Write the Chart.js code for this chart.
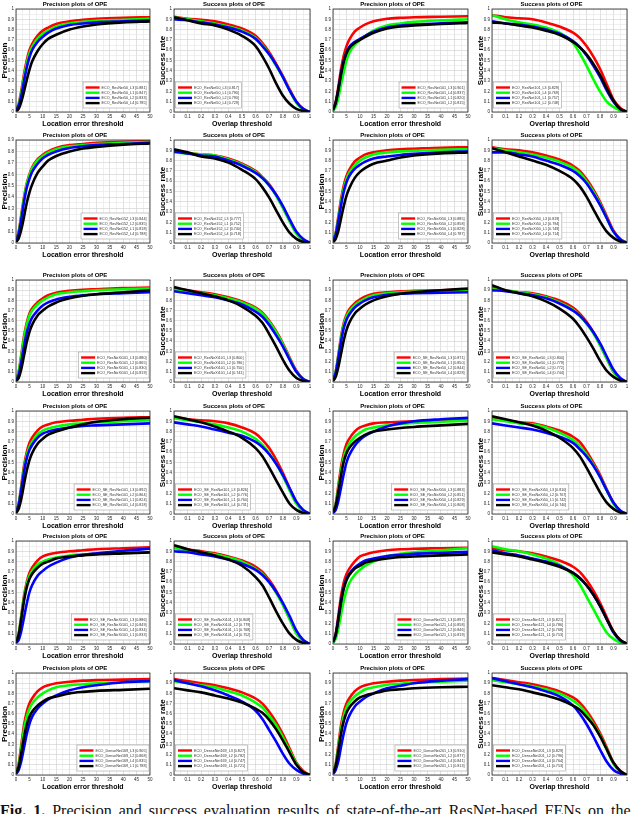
<!DOCTYPE html>
<html>
<head>
<meta charset="utf-8">
<script src="https://cdn.jsdelivr.net/npm/chart.js@4.4.0/dist/chart.umd.min.js"></script>
<style>
  html, body { margin: 0; padding: 0; background: #fff; }
  #figure { position: relative; width: 640px; height: 814px; overflow: hidden; background: #fff; }
  #figure canvas { position: absolute; }
  #caption { position: absolute; left: 0; top: 803px; font: 16px "Liberation Serif", serif; line-height: 16px; word-spacing: 3px; white-space: nowrap; color: #111; }
</style>
</head>
<body>
<div id="figure">
  <div id="caption"><b>Fig. 1.</b> Precision and success evaluation results of state-of-the-art ResNet-based FENs on the</div>
</div>
<script>
// x positions of the sampled curve points
const precisionX = [0, 1, 2, 3, 4, 5, 6, 8, 10, 12, 15, 20, 25, 30, 40, 50];
const successX = [0, 0.1, 0.2, 0.3, 0.4, 0.5, 0.6, 0.65, 0.7, 0.75, 0.8, 0.85, 0.9, 0.95, 1];
const lineColors = ['#ff0000', '#00ff00', '#0000ff', '#000000'];

// row 1
const resnet50PrecNames = ['ECO_ResNet50_L3 [0.881]', 'ECO_ResNet50_L1 [0.847]', 'ECO_ResNet50_L2 [0.833]', 'ECO_ResNet50_L4 [0.785]'];
const resnet50Prec = [
  [0.02, 0.08, 0.21, 0.37, 0.5, 0.6, 0.66, 0.74, 0.79, 0.82, 0.855, 0.88, 0.895, 0.905, 0.915, 0.92],
  [0.02, 0.07, 0.19, 0.34, 0.47, 0.57, 0.63, 0.71, 0.76, 0.79, 0.83, 0.86, 0.875, 0.885, 0.895, 0.905],
  [0.02, 0.06, 0.16, 0.3, 0.43, 0.53, 0.6, 0.68, 0.73, 0.77, 0.81, 0.845, 0.86, 0.87, 0.88, 0.89],
  [0.01, 0.03, 0.1, 0.2, 0.31, 0.41, 0.49, 0.59, 0.66, 0.71, 0.75, 0.8, 0.83, 0.85, 0.87, 0.88]
];
const resnet50SuccNames = ['ECO_ResNet50_L3 [0.817]', 'ECO_ResNet50_L1 [0.790]', 'ECO_ResNet50_L2 [0.790]', 'ECO_ResNet50_L4 [0.729]'];
const resnet50Succ = [
  [0.925, 0.905, 0.895, 0.88, 0.85, 0.81, 0.74, 0.67, 0.58, 0.47, 0.35, 0.22, 0.1, 0.03, 0],
  [0.92, 0.9, 0.88, 0.86, 0.83, 0.79, 0.72, 0.65, 0.56, 0.45, 0.34, 0.21, 0.09, 0.025, 0],
  [0.9, 0.89, 0.87, 0.85, 0.82, 0.78, 0.71, 0.64, 0.56, 0.46, 0.34, 0.21, 0.1, 0.03, 0],
  [0.92, 0.89, 0.86, 0.84, 0.8, 0.74, 0.64, 0.54, 0.42, 0.28, 0.16, 0.08, 0.03, 0.01, 0]
];
const resnet101PrecNames = ['ECO_ResNet101_L3 [0.901]', 'ECO_ResNet101_L4 [0.837]', 'ECO_ResNet101_L1 [0.820]', 'ECO_ResNet101_L2 [0.815]'];
const resnet101Prec = [
  [0.02, 0.1, 0.25, 0.42, 0.55, 0.64, 0.7, 0.78, 0.82, 0.85, 0.88, 0.905, 0.915, 0.92, 0.925, 0.93],
  [0.01, 0.05, 0.14, 0.27, 0.39, 0.5, 0.57, 0.65, 0.7, 0.74, 0.79, 0.84, 0.86, 0.875, 0.89, 0.9],
  [0.02, 0.09, 0.22, 0.38, 0.5, 0.58, 0.63, 0.68, 0.71, 0.74, 0.78, 0.82, 0.84, 0.85, 0.86, 0.87],
  [0.02, 0.09, 0.22, 0.37, 0.49, 0.57, 0.62, 0.67, 0.7, 0.73, 0.77, 0.81, 0.83, 0.84, 0.855, 0.865]
];
const resnet101SuccNames = ['ECO_ResNet101_L3 [0.829]', 'ECO_ResNet101_L4 [0.769]', 'ECO_ResNet101_L1 [0.757]', 'ECO_ResNet101_L2 [0.748]'];
const resnet101Succ = [
  [0.94, 0.92, 0.91, 0.9, 0.87, 0.83, 0.77, 0.72, 0.64, 0.54, 0.42, 0.27, 0.12, 0.04, 0],
  [0.94, 0.9, 0.87, 0.85, 0.82, 0.77, 0.67, 0.57, 0.45, 0.32, 0.2, 0.1, 0.05, 0.015, 0],
  [0.88, 0.86, 0.85, 0.83, 0.8, 0.76, 0.69, 0.63, 0.55, 0.45, 0.34, 0.21, 0.1, 0.03, 0],
  [0.87, 0.86, 0.84, 0.82, 0.79, 0.75, 0.68, 0.63, 0.56, 0.47, 0.36, 0.23, 0.11, 0.03, 0]
];

// row 2
const resnet152PrecNames = ['ECO_ResNet152_L3 [0.844]', 'ECO_ResNet152_L2 [0.835]', 'ECO_ResNet152_L1 [0.818]', 'ECO_ResNet152_L4 [0.788]'];
const resnet152Prec = [
  [0.02, 0.1, 0.25, 0.4, 0.52, 0.6, 0.66, 0.73, 0.77, 0.8, 0.83, 0.855, 0.865, 0.875, 0.885, 0.89],
  [0.02, 0.09, 0.24, 0.39, 0.51, 0.59, 0.65, 0.72, 0.76, 0.79, 0.82, 0.845, 0.855, 0.865, 0.875, 0.885],
  [0.02, 0.08, 0.21, 0.36, 0.48, 0.56, 0.62, 0.69, 0.74, 0.77, 0.8, 0.83, 0.845, 0.855, 0.865, 0.875],
  [0.01, 0.04, 0.12, 0.23, 0.35, 0.44, 0.51, 0.61, 0.67, 0.72, 0.76, 0.8, 0.825, 0.84, 0.86, 0.87]
];
const resnet152SuccNames = ['ECO_ResNet152_L3 [0.777]', 'ECO_ResNet152_L1 [0.752]', 'ECO_ResNet152_L2 [0.740]', 'ECO_ResNet152_L4 [0.718]'];
const resnet152Succ = [
  [0.89, 0.87, 0.86, 0.85, 0.82, 0.77, 0.7, 0.64, 0.57, 0.47, 0.35, 0.22, 0.1, 0.03, 0],
  [0.88, 0.87, 0.86, 0.85, 0.81, 0.76, 0.69, 0.63, 0.56, 0.46, 0.34, 0.21, 0.09, 0.03, 0],
  [0.89, 0.87, 0.85, 0.84, 0.8, 0.75, 0.68, 0.63, 0.56, 0.47, 0.36, 0.23, 0.11, 0.04, 0],
  [0.91, 0.88, 0.84, 0.82, 0.78, 0.71, 0.62, 0.54, 0.44, 0.32, 0.2, 0.1, 0.04, 0.01, 0]
];
const resnext50PrecNames = ['ECO_ResNeXt50_L3 [0.885]', 'ECO_ResNeXt50_L2 [0.858]', 'ECO_ResNeXt50_L1 [0.828]', 'ECO_ResNeXt50_L4 [0.787]'];
const resnext50Prec = [
  [0.02, 0.1, 0.26, 0.43, 0.56, 0.65, 0.71, 0.79, 0.83, 0.86, 0.88, 0.9, 0.91, 0.915, 0.925, 0.93],
  [0.02, 0.09, 0.24, 0.4, 0.53, 0.62, 0.68, 0.75, 0.8, 0.83, 0.86, 0.88, 0.89, 0.895, 0.905, 0.91],
  [0.02, 0.08, 0.22, 0.37, 0.5, 0.59, 0.65, 0.72, 0.76, 0.79, 0.82, 0.84, 0.855, 0.865, 0.88, 0.89],
  [0.01, 0.04, 0.12, 0.24, 0.36, 0.46, 0.53, 0.63, 0.69, 0.73, 0.77, 0.8, 0.83, 0.85, 0.87, 0.88]
];
const resnext50SuccNames = ['ECO_ResNeXt50_L3 [0.819]', 'ECO_ResNeXt50_L2 [0.794]', 'ECO_ResNeXt50_L1 [0.749]', 'ECO_ResNeXt50_L4 [0.714]'];
const resnext50Succ = [
  [0.93, 0.91, 0.9, 0.88, 0.85, 0.81, 0.75, 0.7, 0.62, 0.52, 0.4, 0.26, 0.12, 0.04, 0],
  [0.92, 0.9, 0.88, 0.86, 0.83, 0.79, 0.73, 0.68, 0.6, 0.5, 0.38, 0.24, 0.11, 0.035, 0],
  [0.88, 0.88, 0.86, 0.84, 0.8, 0.76, 0.7, 0.65, 0.58, 0.48, 0.37, 0.24, 0.11, 0.035, 0],
  [0.92, 0.88, 0.84, 0.8, 0.76, 0.7, 0.62, 0.55, 0.45, 0.33, 0.21, 0.11, 0.05, 0.015, 0]
];

// row 3
const resnext101PrecNames = ['ECO_ResNeXt101_L3 [0.880]', 'ECO_ResNeXt101_L2 [0.865]', 'ECO_ResNeXt101_L1 [0.830]', 'ECO_ResNeXt101_L4 [0.819]'];
const resnext101Prec = [
  [0.02, 0.1, 0.27, 0.45, 0.58, 0.67, 0.72, 0.78, 0.82, 0.85, 0.875, 0.895, 0.905, 0.91, 0.92, 0.925],
  [0.02, 0.1, 0.26, 0.43, 0.56, 0.65, 0.7, 0.76, 0.8, 0.83, 0.86, 0.88, 0.89, 0.9, 0.91, 0.915],
  [0.02, 0.07, 0.2, 0.35, 0.48, 0.57, 0.63, 0.7, 0.75, 0.78, 0.81, 0.835, 0.85, 0.86, 0.87, 0.88],
  [0.01, 0.04, 0.13, 0.26, 0.39, 0.49, 0.56, 0.65, 0.7, 0.74, 0.78, 0.82, 0.845, 0.86, 0.88, 0.9]
];
const resnext101SuccNames = ['ECO_ResNeXt101_L3 [0.800]', 'ECO_ResNeXt101_L2 [0.786]', 'ECO_ResNeXt101_L1 [0.750]', 'ECO_ResNeXt101_L4 [0.741]'];
const resnext101Succ = [
  [0.92, 0.9, 0.88, 0.86, 0.83, 0.79, 0.73, 0.68, 0.6, 0.5, 0.38, 0.24, 0.11, 0.03, 0],
  [0.91, 0.89, 0.87, 0.85, 0.82, 0.78, 0.72, 0.67, 0.59, 0.49, 0.37, 0.23, 0.1, 0.03, 0],
  [0.89, 0.87, 0.85, 0.83, 0.8, 0.76, 0.69, 0.64, 0.56, 0.46, 0.35, 0.22, 0.1, 0.03, 0],
  [0.93, 0.9, 0.87, 0.84, 0.8, 0.74, 0.65, 0.58, 0.47, 0.35, 0.22, 0.11, 0.04, 0.01, 0]
];
const seResnet50PrecNames = ['ECO_SE_ResNet50_L3 [0.871]', 'ECO_SE_ResNet50_L1 [0.850]', 'ECO_SE_ResNet50_L2 [0.844]', 'ECO_SE_ResNet50_L4 [0.828]'];
const seResnet50Prec = [
  [0.02, 0.1, 0.27, 0.45, 0.58, 0.66, 0.71, 0.77, 0.81, 0.84, 0.865, 0.88, 0.89, 0.895, 0.9, 0.91],
  [0.02, 0.1, 0.26, 0.43, 0.56, 0.64, 0.69, 0.75, 0.79, 0.82, 0.85, 0.87, 0.88, 0.885, 0.895, 0.9],
  [0.02, 0.09, 0.24, 0.4, 0.53, 0.61, 0.66, 0.73, 0.77, 0.8, 0.83, 0.855, 0.865, 0.87, 0.875, 0.88],
  [0.01, 0.05, 0.15, 0.28, 0.41, 0.51, 0.58, 0.67, 0.72, 0.76, 0.8, 0.84, 0.865, 0.88, 0.9, 0.915]
];
const seResnet50SuccNames = ['ECO_SE_ResNet50_L3 [0.800]', 'ECO_SE_ResNet50_L1 [0.779]', 'ECO_SE_ResNet50_L2 [0.772]', 'ECO_SE_ResNet50_L4 [0.744]'];
const seResnet50Succ = [
  [0.92, 0.9, 0.88, 0.87, 0.84, 0.8, 0.73, 0.67, 0.59, 0.49, 0.37, 0.23, 0.1, 0.03, 0],
  [0.91, 0.9, 0.88, 0.86, 0.83, 0.78, 0.71, 0.65, 0.57, 0.48, 0.36, 0.23, 0.1, 0.03, 0],
  [0.9, 0.89, 0.87, 0.85, 0.82, 0.77, 0.7, 0.65, 0.58, 0.49, 0.38, 0.25, 0.12, 0.04, 0],
  [0.95, 0.9, 0.87, 0.84, 0.79, 0.72, 0.62, 0.54, 0.44, 0.33, 0.21, 0.11, 0.05, 0.015, 0]
];

// row 4
const seResnet101PrecNames = ['ECO_SE_ResNet101_L3 [0.892]', 'ECO_SE_ResNet101_L2 [0.864]', 'ECO_SE_ResNet101_L1 [0.824]', 'ECO_SE_ResNet101_L4 [0.818]'];
const seResnet101Prec = [
  [0.02, 0.1, 0.28, 0.47, 0.6, 0.69, 0.74, 0.81, 0.85, 0.87, 0.89, 0.905, 0.915, 0.925, 0.935, 0.94],
  [0.02, 0.1, 0.26, 0.44, 0.57, 0.65, 0.7, 0.77, 0.81, 0.83, 0.85, 0.87, 0.88, 0.89, 0.9, 0.91],
  [0.02, 0.09, 0.24, 0.41, 0.54, 0.62, 0.67, 0.74, 0.78, 0.8, 0.82, 0.84, 0.855, 0.86, 0.87, 0.88],
  [0.01, 0.05, 0.15, 0.29, 0.42, 0.52, 0.59, 0.68, 0.73, 0.77, 0.8, 0.84, 0.87, 0.895, 0.92, 0.935]
];
const seResnet101SuccNames = ['ECO_SE_ResNet101_L3 [0.826]', 'ECO_SE_ResNet101_L2 [0.776]', 'ECO_SE_ResNet101_L1 [0.760]', 'ECO_SE_ResNet101_L4 [0.731]'];
const seResnet101Succ = [
  [0.94, 0.92, 0.91, 0.9, 0.88, 0.84, 0.78, 0.72, 0.64, 0.53, 0.4, 0.25, 0.11, 0.03, 0],
  [0.93, 0.91, 0.89, 0.87, 0.84, 0.8, 0.73, 0.67, 0.59, 0.49, 0.37, 0.23, 0.1, 0.03, 0],
  [0.89, 0.87, 0.85, 0.82, 0.79, 0.76, 0.7, 0.65, 0.58, 0.49, 0.38, 0.25, 0.12, 0.04, 0],
  [0.95, 0.92, 0.89, 0.85, 0.8, 0.74, 0.64, 0.56, 0.45, 0.33, 0.21, 0.1, 0.04, 0.01, 0]
];
const seResnext50PrecNames = ['ECO_SE_ResNeXt50_L3 [0.883]', 'ECO_SE_ResNeXt50_L2 [0.851]', 'ECO_SE_ResNeXt50_L4 [0.829]', 'ECO_SE_ResNeXt50_L1 [0.808]'];
const seResnext50Prec = [
  [0.02, 0.1, 0.28, 0.46, 0.59, 0.68, 0.73, 0.8, 0.84, 0.86, 0.88, 0.89, 0.895, 0.9, 0.91, 0.92],
  [0.02, 0.09, 0.25, 0.42, 0.55, 0.63, 0.68, 0.75, 0.79, 0.82, 0.84, 0.86, 0.875, 0.885, 0.895, 0.905],
  [0.01, 0.04, 0.13, 0.26, 0.39, 0.5, 0.57, 0.66, 0.72, 0.76, 0.8, 0.85, 0.88, 0.9, 0.92, 0.935],
  [0.02, 0.08, 0.22, 0.38, 0.51, 0.59, 0.64, 0.7, 0.74, 0.77, 0.8, 0.82, 0.835, 0.845, 0.86, 0.875]
];
const seResnext50SuccNames = ['ECO_SE_ResNeXt50_L3 [0.810]', 'ECO_SE_ResNeXt50_L2 [0.767]', 'ECO_SE_ResNeXt50_L1 [0.742]', 'ECO_SE_ResNeXt50_L4 [0.740]'];
const seResnext50Succ = [
  [0.93, 0.91, 0.89, 0.88, 0.85, 0.81, 0.75, 0.7, 0.61, 0.5, 0.38, 0.24, 0.11, 0.03, 0],
  [0.92, 0.9, 0.88, 0.87, 0.84, 0.79, 0.72, 0.66, 0.58, 0.48, 0.36, 0.23, 0.1, 0.03, 0],
  [0.88, 0.86, 0.84, 0.82, 0.79, 0.75, 0.69, 0.63, 0.56, 0.47, 0.36, 0.23, 0.11, 0.035, 0],
  [0.95, 0.92, 0.89, 0.86, 0.81, 0.74, 0.64, 0.56, 0.45, 0.33, 0.21, 0.11, 0.05, 0.015, 0]
];

// row 5
const seResnext101PrecNames = ['ECO_SE_ResNeXt101_L3 [0.886]', 'ECO_SE_ResNeXt101_L2 [0.849]', 'ECO_SE_ResNeXt101_L4 [0.834]', 'ECO_SE_ResNeXt101_L1 [0.833]'];
const seResnext101Prec = [
  [0.02, 0.1, 0.28, 0.47, 0.6, 0.69, 0.74, 0.81, 0.85, 0.87, 0.885, 0.9, 0.91, 0.92, 0.93, 0.94],
  [0.02, 0.1, 0.27, 0.45, 0.58, 0.66, 0.71, 0.77, 0.8, 0.82, 0.84, 0.86, 0.87, 0.875, 0.885, 0.89],
  [0.01, 0.04, 0.13, 0.26, 0.39, 0.5, 0.57, 0.66, 0.71, 0.75, 0.79, 0.84, 0.865, 0.88, 0.905, 0.925],
  [0.02, 0.09, 0.25, 0.42, 0.55, 0.63, 0.68, 0.74, 0.78, 0.8, 0.83, 0.85, 0.86, 0.87, 0.88, 0.89]
];
const seResnext101SuccNames = ['ECO_SE_ResNeXt101_L3 [0.808]', 'ECO_SE_ResNeXt101_L2 [0.779]', 'ECO_SE_ResNeXt101_L1 [0.768]', 'ECO_SE_ResNeXt101_L4 [0.752]'];
const seResnext101Succ = [
  [0.95, 0.92, 0.9, 0.88, 0.85, 0.81, 0.75, 0.7, 0.62, 0.52, 0.39, 0.25, 0.11, 0.03, 0],
  [0.93, 0.91, 0.89, 0.87, 0.84, 0.8, 0.73, 0.68, 0.6, 0.5, 0.38, 0.24, 0.1, 0.03, 0],
  [0.9, 0.89, 0.87, 0.85, 0.82, 0.78, 0.72, 0.67, 0.6, 0.51, 0.4, 0.27, 0.13, 0.04, 0],
  [0.96, 0.92, 0.89, 0.86, 0.82, 0.76, 0.65, 0.57, 0.45, 0.32, 0.2, 0.1, 0.04, 0.01, 0]
];
const densenet121PrecNames = ['ECO_DenseNet121_L3 [0.897]', 'ECO_DenseNet121_L4 [0.858]', 'ECO_DenseNet121_L2 [0.846]', 'ECO_DenseNet121_L1 [0.819]'];
const densenet121Prec = [
  [0.02, 0.1, 0.28, 0.47, 0.6, 0.68, 0.73, 0.8, 0.85, 0.87, 0.89, 0.91, 0.92, 0.925, 0.93, 0.935],
  [0.01, 0.05, 0.15, 0.29, 0.42, 0.52, 0.59, 0.67, 0.72, 0.76, 0.8, 0.85, 0.875, 0.89, 0.91, 0.93],
  [0.02, 0.09, 0.25, 0.42, 0.55, 0.63, 0.68, 0.74, 0.78, 0.81, 0.83, 0.855, 0.865, 0.875, 0.885, 0.895],
  [0.02, 0.09, 0.24, 0.41, 0.54, 0.62, 0.67, 0.73, 0.76, 0.79, 0.81, 0.83, 0.845, 0.85, 0.86, 0.87]
];
const densenet121SuccNames = ['ECO_DenseNet121_L3 [0.821]', 'ECO_DenseNet121_L4 [0.786]', 'ECO_DenseNet121_L2 [0.768]', 'ECO_DenseNet121_L1 [0.753]'];
const densenet121Succ = [
  [0.93, 0.91, 0.9, 0.88, 0.85, 0.81, 0.75, 0.7, 0.62, 0.52, 0.4, 0.26, 0.12, 0.04, 0],
  [0.95, 0.92, 0.9, 0.87, 0.83, 0.77, 0.67, 0.58, 0.46, 0.34, 0.22, 0.11, 0.05, 0.015, 0],
  [0.91, 0.88, 0.86, 0.83, 0.8, 0.76, 0.69, 0.64, 0.57, 0.48, 0.37, 0.24, 0.11, 0.035, 0],
  [0.89, 0.87, 0.85, 0.82, 0.79, 0.75, 0.69, 0.64, 0.57, 0.48, 0.37, 0.24, 0.12, 0.04, 0]
];

// row 6
const densenet169PrecNames = ['ECO_DenseNet169_L3 [0.905]', 'ECO_DenseNet169_L2 [0.868]', 'ECO_DenseNet169_L4 [0.835]', 'ECO_DenseNet169_L1 [0.788]'];
const densenet169Prec = [
  [0.02, 0.11, 0.3, 0.49, 0.62, 0.7, 0.75, 0.82, 0.86, 0.88, 0.9, 0.915, 0.925, 0.93, 0.935, 0.94],
  [0.02, 0.1, 0.27, 0.45, 0.57, 0.65, 0.7, 0.76, 0.8, 0.83, 0.86, 0.88, 0.89, 0.9, 0.91, 0.92],
  [0.01, 0.05, 0.14, 0.27, 0.4, 0.5, 0.57, 0.65, 0.7, 0.74, 0.78, 0.83, 0.86, 0.88, 0.91, 0.92],
  [0.02, 0.08, 0.22, 0.37, 0.49, 0.57, 0.62, 0.68, 0.72, 0.75, 0.77, 0.8, 0.815, 0.825, 0.835, 0.845]
];
const densenet169SuccNames = ['ECO_DenseNet169_L3 [0.827]', 'ECO_DenseNet169_L2 [0.782]', 'ECO_DenseNet169_L4 [0.747]', 'ECO_DenseNet169_L1 [0.721]'];
const densenet169Succ = [
  [0.94, 0.92, 0.9, 0.88, 0.85, 0.81, 0.75, 0.7, 0.62, 0.52, 0.4, 0.26, 0.12, 0.04, 0],
  [0.92, 0.9, 0.88, 0.86, 0.82, 0.78, 0.71, 0.66, 0.58, 0.49, 0.37, 0.24, 0.11, 0.03, 0],
  [0.93, 0.9, 0.87, 0.83, 0.78, 0.72, 0.63, 0.55, 0.44, 0.33, 0.21, 0.11, 0.05, 0.015, 0],
  [0.85, 0.83, 0.81, 0.78, 0.75, 0.71, 0.65, 0.61, 0.54, 0.45, 0.34, 0.22, 0.1, 0.03, 0]
];
const densenet201PrecNames = ['ECO_DenseNet201_L3 [0.910]', 'ECO_DenseNet201_L2 [0.877]', 'ECO_DenseNet201_L4 [0.841]', 'ECO_DenseNet201_L1 [0.813]'];
const densenet201Prec = [
  [0.02, 0.11, 0.3, 0.49, 0.62, 0.7, 0.75, 0.82, 0.86, 0.88, 0.9, 0.915, 0.925, 0.93, 0.94, 0.945],
  [0.02, 0.1, 0.27, 0.45, 0.58, 0.66, 0.71, 0.77, 0.81, 0.84, 0.86, 0.885, 0.895, 0.905, 0.915, 0.925],
  [0.01, 0.05, 0.14, 0.28, 0.41, 0.51, 0.58, 0.67, 0.72, 0.76, 0.8, 0.85, 0.875, 0.9, 0.925, 0.94],
  [0.02, 0.09, 0.24, 0.41, 0.53, 0.61, 0.66, 0.72, 0.76, 0.78, 0.8, 0.83, 0.84, 0.85, 0.86, 0.865]
];
const densenet201SuccNames = ['ECO_DenseNet201_L3 [0.829]', 'ECO_DenseNet201_L2 [0.796]', 'ECO_DenseNet201_L4 [0.764]', 'ECO_DenseNet201_L1 [0.753]'];
const densenet201Succ = [
  [0.95, 0.93, 0.91, 0.89, 0.86, 0.82, 0.76, 0.71, 0.63, 0.53, 0.41, 0.27, 0.12, 0.04, 0],
  [0.93, 0.91, 0.89, 0.87, 0.84, 0.8, 0.73, 0.68, 0.6, 0.5, 0.39, 0.25, 0.11, 0.035, 0],
  [0.95, 0.92, 0.89, 0.86, 0.82, 0.77, 0.68, 0.6, 0.5, 0.38, 0.25, 0.13, 0.05, 0.015, 0],
  [0.88, 0.86, 0.84, 0.81, 0.78, 0.74, 0.68, 0.64, 0.57, 0.49, 0.38, 0.25, 0.12, 0.04, 0]
];

// panel order: row by row, [kind, legend names, series, y max]
const panels = [
  ['p', resnet50PrecNames, resnet50Prec, 1], ['s', resnet50SuccNames, resnet50Succ, 1],
  ['p', resnet101PrecNames, resnet101Prec, 1], ['s', resnet101SuccNames, resnet101Succ, 1],
  ['p', resnet152PrecNames, resnet152Prec, 0.9], ['s', resnet152SuccNames, resnet152Succ, 1],
  ['p', resnext50PrecNames, resnext50Prec, 1], ['s', resnext50SuccNames, resnext50Succ, 1],
  ['p', resnext101PrecNames, resnext101Prec, 1], ['s', resnext101SuccNames, resnext101Succ, 1],
  ['p', seResnet50PrecNames, seResnet50Prec, 1], ['s', seResnet50SuccNames, seResnet50Succ, 1],
  ['p', seResnet101PrecNames, seResnet101Prec, 1], ['s', seResnet101SuccNames, seResnet101Succ, 1],
  ['p', seResnext50PrecNames, seResnext50Prec, 1], ['s', seResnext50SuccNames, seResnext50Succ, 1],
  ['p', seResnext101PrecNames, seResnext101Prec, 1], ['s', seResnext101SuccNames, seResnext101Succ, 1],
  ['p', densenet121PrecNames, densenet121Prec, 1], ['s', densenet121SuccNames, densenet121Succ, 1],
  ['p', densenet169PrecNames, densenet169Prec, 1], ['s', densenet169SuccNames, densenet169Succ, 1],
  ['p', densenet201PrecNames, densenet201Prec, 1], ['s', densenet201SuccNames, densenet201Succ, 1]
];

// plot-area geometry of the grid of panels
const colLeft = [16, 174, 333, 492];
const colWidth = [134, 136, 135, 135];
const rowTop = [9, 140, 280, 411, 541, 673];
const rowHeight = [103, 103, 102, 103, 103, 102];

const FONT = '"Liberation Sans", Arial, sans-serif';

function isMajor(v, major) {
    const r = v / major;
    return Math.abs(r - Math.round(r)) < 1e-6;
}

// black box round the axes, like MATLAB's "box on"
const framePlugin = {
    id: 'frame',
    afterDatasetsDraw(chart) {
        const {ctx, chartArea: a} = chart;
        ctx.save();
        ctx.strokeStyle = '#262626';
        ctx.lineWidth = 0.8;
        ctx.strokeRect(a.left, a.top, a.right - a.left, a.bottom - a.top);
        ctx.restore();
    }
};

// boxed legend inside the plot area
const boxLegendPlugin = {
    id: 'boxLegend',
    afterDraw(chart, args, opts) {
        const {ctx, chartArea: a} = chart;
        const sets = chart.data.datasets;
        ctx.save();
        ctx.font = '3.7px ' + FONT;
        const textW = Math.max(...sets.map(d => ctx.measureText(d.label).width));
        const w = textW + 21;
        const h = 26;
        const x = opts.side === 'right' ? a.right - w - 1 : a.left + 1.5;
        const y = a.bottom - h - 4;
        ctx.fillStyle = '#ffffff';
        ctx.fillRect(x, y, w, h);
        ctx.strokeStyle = '#a0a0a0';
        ctx.lineWidth = 0.6;
        ctx.strokeRect(x, y, w, h);
        ctx.textBaseline = 'middle';
        sets.forEach((d, i) => {
            const ly = y + 5.5 + i * 5.2;
            ctx.strokeStyle = d.borderColor;
            ctx.lineWidth = 2.4;
            ctx.beginPath();
            ctx.moveTo(x + 2.5, ly);
            ctx.lineTo(x + 16.5, ly);
            ctx.stroke();
            ctx.fillStyle = '#333333';
            ctx.fillText(d.label, x + 18.5, ly);
        });
        ctx.restore();
    }
};

const figure = document.getElementById('figure');

panels.forEach((panel, k) => {
    const [kind, names, series, yMax] = panel;
    const col = k % 4;
    const row = Math.floor(k / 4);
    const w = colWidth[col];
    const h = rowHeight[row];
    const isPrec = kind === 'p';
    const xs = isPrec ? precisionX : successX;
    const xMajor = isPrec ? 5 : 0.1;

    const canvas = document.createElement('canvas');
    canvas.width = 16 + w + 5;
    canvas.height = 12 + h + 20;
    canvas.style.left = (colLeft[col] - 16) + 'px';
    canvas.style.top = (rowTop[row] - 12) + 'px';
    figure.appendChild(canvas);

    const datasets = series.map((values, i) => ({
        label: names[i],
        data: values.map((v, j) => ({x: xs[j], y: v})),
        borderColor: lineColors[i],
        backgroundColor: lineColors[i],
        borderWidth: 2.6,
        pointRadius: 0,
        fill: false,
        cubicInterpolationMode: 'monotone',
        order: 3 - i
    }));

    new Chart(canvas.getContext('2d'), {
        type: 'line',
        data: {datasets: datasets},
        options: {
            responsive: false,
            animation: false,
            events: [],
            layout: {padding: {left: 0, top: 0, right: 5, bottom: 0}},
            plugins: {
                legend: {display: false},
                tooltip: {enabled: false},
                title: {
                    display: true,
                    text: isPrec ? 'Precision plots of OPE' : 'Success plots of OPE',
                    color: '#000',
                    font: {family: FONT, size: 6, weight: 'bold', lineHeight: 1},
                    padding: {top: 4, bottom: 2}
                },
                boxLegend: {side: isPrec ? 'right' : 'left'}
            },
            scales: {
                x: {
                    type: 'linear',
                    min: 0,
                    max: isPrec ? 50 : 1,
                    afterFit: s => { s.height = 20; },
                    border: {display: false},
                    grid: {
                        drawTicks: false,
                        lineWidth: 0.6,
                        color: c => isMajor(c.tick.value, xMajor) ? '#cccccc' : '#e4e4e4'
                    },
                    ticks: {
                        stepSize: xMajor / 2,
                        maxTicksLimit: 100,
                        autoSkip: false,
                        maxRotation: 0,
                        padding: 2.5,
                        color: '#262626',
                        font: {family: FONT, size: 4.5},
                        callback: v => isMajor(v, xMajor) ? String(Math.round(v * 10) / 10) : ''
                    },
                    title: {
                        display: true,
                        text: isPrec ? 'Location error threshold' : 'Overlap threshold',
                        color: '#000',
                        font: {family: FONT, size: 7, weight: 'bold', lineHeight: 1},
                        padding: {top: 0, bottom: 4.5}
                    }
                },
                y: {
                    min: 0,
                    max: yMax,
                    afterFit: s => { s.width = 16; },
                    border: {display: false},
                    grid: {
                        drawTicks: false,
                        lineWidth: 0.6,
                        color: c => isMajor(c.tick.value, 0.1) ? '#cccccc' : '#e4e4e4'
                    },
                    ticks: {
                        stepSize: 0.05,
                        maxTicksLimit: 100,
                        autoSkip: false,
                        padding: 2,
                        color: '#262626',
                        font: {family: FONT, size: 4.5},
                        callback: v => isMajor(v, 0.1) ? String(Math.round(v * 10) / 10) : ''
                    },
                    title: {
                        display: true,
                        text: isPrec ? 'Precision' : 'Success rate',
                        color: '#000',
                        font: {family: FONT, size: 8, weight: 'bold', lineHeight: 1},
                        padding: {top: 1, bottom: 0}
                    }
                }
            }
        },
        plugins: [framePlugin, boxLegendPlugin]
    });
});
</script>
</body>
</html>
